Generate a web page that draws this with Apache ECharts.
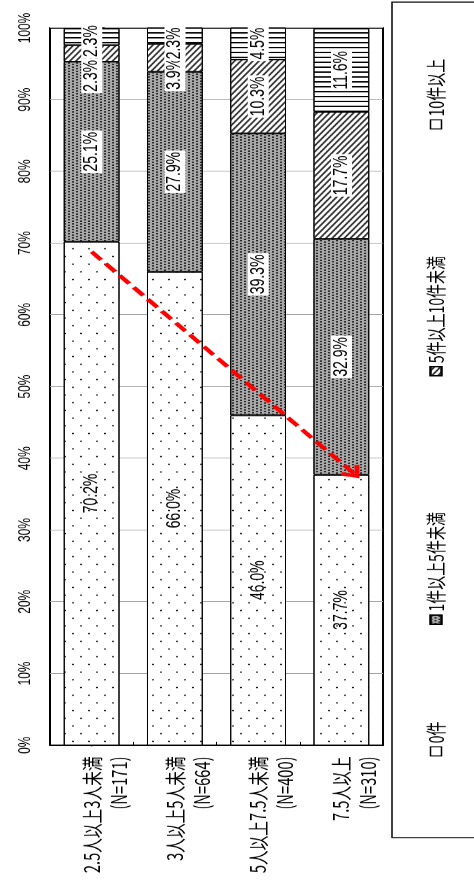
<!DOCTYPE html>
<html>
  <head>
    <meta charset="utf-8" />
    <title>世帯人数別 件数の分布</title>
    <script src="https://cdn.jsdelivr.net/npm/echarts@6/dist/echarts.min.js"></script>
    <style>
      html,
      body {
        margin: 0;
        padding: 0;
        width: 474px;
        height: 881px;
        overflow: hidden;
        background: #fff;
      }
      /* chart is laid out as a horizontal bar chart, then turned a quarter turn */
      #main {
        position: absolute;
        left: 0;
        top: 0;
        width: 1259px;
        height: 474px;
        transform-origin: 0 0;
        transform: translate(0, 881px) rotate(-90deg) scaleX(0.69976);
      }
    </style>
  </head>
  <body>
    <div id="main"></div>
    <script type="text/javascript">
      // data
      var categories = ["2.5人以上3人未満", "3人以上5人未満", "5人以上7.5人未満", "7.5人以上"];
      var sampleSizes = [171, 664, 400, 310];
      var seriesNames = ["0件", "1件以上5件未満", "5件以上10件未満", "10件以上"];
      var zeroCases = [70.2, 66.0, 46.0, 37.7];
      var oneToFive = [25.1, 27.9, 39.3, 32.9];
      var fiveToTen = [2.3, 3.9, 10.3, 17.7];
      var tenOrMore = [2.3, 2.3, 4.5, 11.6];
      // trend arrow: [percent, category position]
      var arrowStart = [68.8, 0];
      var arrowEnd = [37.9, 3.15];

      // layout / style
      var narrowFont = "'Liberation Sans Narrow', 'Liberation Sans', Arial, sans-serif";
      var cjkFont = "'Noto Sans CJK JP', 'Noto Sans', sans-serif";
      var legendLeft = [173, 361, 716, 1069];
      // nudges for labels of thin segments (px along the value axis)
      var labelNudge = {
        "5件以上10件未満": [-32, -23, 0, 0],
        "10件以上": [-6, -11, 0, 0],
      };

      var decals = [
        {
          symbol: "circle",
          symbolKeepAspect: false,
          color: "#000",
          dashArrayX: [
            [3, 19],
            [0, 11, 3, 8],
          ],
          dashArrayY: [2, 6],
        },
        {
          symbol: "rect",
          color: "#2a2a2a",
          dashArrayX: [
            [2, 2],
            [0, 2, 2, 0],
          ],
          dashArrayY: [2, 2],
        },
        {
          symbol: "rect",
          color: "#333",
          dashArrayX: [1, 0],
          dashArrayY: [2, 3],
          rotation: 0.61,
        },
        {
          symbol: "rect",
          color: "#000",
          dashArrayX: [2, 5],
          dashArrayY: [1, 0],
        },
      ];
      var baseColors = ["#fff", "#a8a8a8", "#fff", "#fff"];
      var valueSets = [zeroCases, oneToFive, fiveToTen, tenOrMore];
      var plainLegendIcon = [true, false, false, true];

      var myChart = echarts.init(document.getElementById("main"));

      var series = seriesNames.map(function (name, i) {
        var nudge = labelNudge[name];
        return {
          name: name,
          type: "bar",
          stack: "total",
          barWidth: "67%",
          data: valueSets[i].map(function (v, j) {
            var item = { value: v };
            if (nudge && nudge[j]) item.label = { offset: [nudge[j], 0] };
            return item;
          }),
          itemStyle: {
            color: baseColors[i],
            borderColor: "#000",
            borderWidth: 1,
            decal: decals[i],
          },
          label: {
            show: true,
            position: "inside",
            formatter: function (p) {
              return p.value.toFixed(1) + "%";
            },
            color: "#000",
            fontSize: 20,
            fontFamily: narrowFont,
            backgroundColor: i === 0 ? "transparent" : "#fff",
            padding: [1, 2, 0, 2],
          },
          emphasis: { disabled: true },
        };
      });

      series.push({
        name: "arrow",
        type: "line",
        yAxisIndex: 1,
        data: [],
        silent: true,
        markLine: {
          silent: true,
          symbol: ["none", "path://M10 0 L20 14 L16.5 17 L10 7 L3.5 17 L0 14 Z"],
          symbolSize: [24, 18],
          label: { show: false },
          lineStyle: { color: "#ff0000", width: 5, type: [15, 7] },
          emphasis: { disabled: true },
          data: [[{ coord: arrowStart }, { coord: arrowEnd }]],
        },
      });

      var option = {
        animation: false,
        grid: {
          left: 194,
          right: 40,
          top: 50,
          bottom: 91,
          show: true,
          borderColor: "#000",
          borderWidth: 2,
          backgroundColor: "transparent",
        },
        xAxis: {
          type: "value",
          position: "top",
          min: 0,
          max: 100,
          interval: 10,
          axisLine: { show: true, lineStyle: { color: "#000", width: 3 } },
          axisTick: { show: true, inside: true, length: 13, lineStyle: { color: "#000" } },
          axisLabel: {
            formatter: "{value}%",
            color: "#000",
            fontSize: 17,
            fontFamily: narrowFont,
            margin: 16,
          },
          splitLine: { show: true, lineStyle: { color: "#a0a0a0", width: 1 } },
        },
        yAxis: [
          {
            type: "category",
            inverse: true,
            data: categories,
            axisLine: { show: true, lineStyle: { color: "#000", width: 2 } },
            axisTick: { show: true, inside: true, length: 5, lineStyle: { color: "#000" } },
            axisLabel: {
              // leading blank line keeps the name line on the bar centre
              formatter: function (v, idx) {
                return " \n" + v + "\n(N=" + sampleSizes[idx] + ")";
              },
              color: "#000",
              fontSize: 21,
              lineHeight: 27,
              fontFamily: cjkFont,
              margin: 16,
            },
          },
          {
            type: "value",
            inverse: true,
            min: -0.5,
            max: 3.5,
            show: false,
          },
        ],
        legend: seriesNames.map(function (name, i) {
          var lg = {
            data: [name],
            left: legendLeft[i],
            top: 421,
            icon: "rect",
            itemWidth: 13,
            itemHeight: 11,
            itemGap: 0,
            selectedMode: false,
            textStyle: { fontSize: 20, fontFamily: cjkFont, color: "#000" },
          };
          if (plainLegendIcon[i]) {
            lg.itemStyle = { color: "#fff", borderColor: "#000", borderWidth: 1.5, decal: "none" };
          }
          return lg;
        }),
        graphic: [
          {
            type: "rect",
            silent: true,
            z: -1,
            shape: { x: 62, y: 392, width: 1194, height: 100 },
            style: { fill: "none", stroke: "#000", lineWidth: 1.5 },
          },
        ],
        series: series,
      };

      myChart.setOption(option);
    </script>
  </body>
</html>
